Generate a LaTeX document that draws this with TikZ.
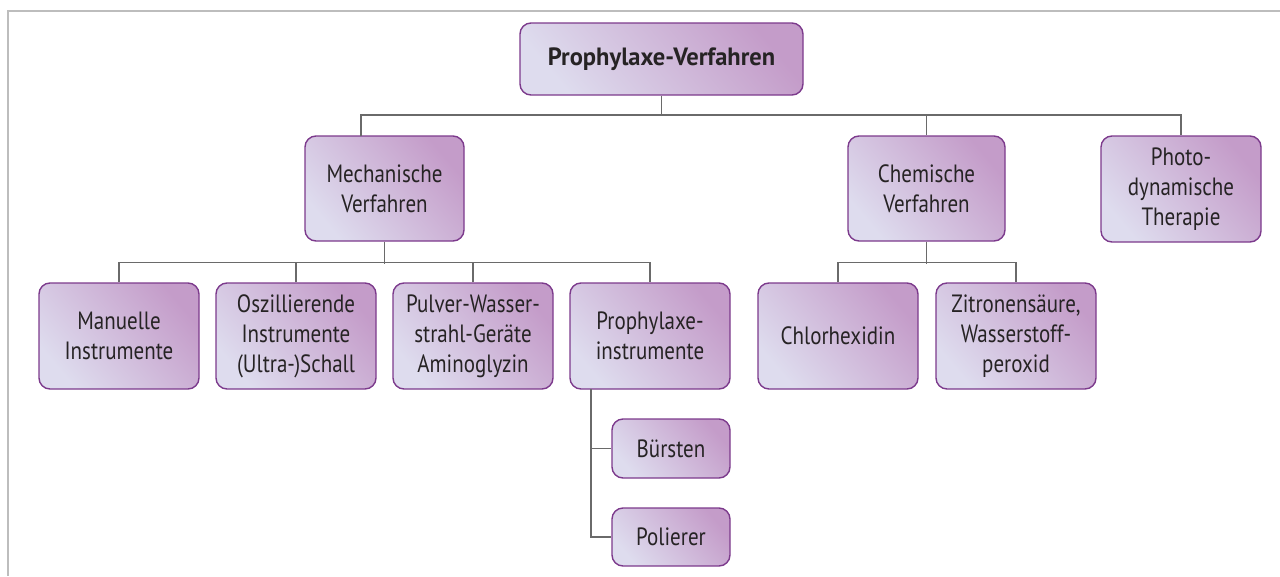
\documentclass[tikz,border=0pt]{standalone}
\usepackage{fontspec}
\setmainfont{PT Sans}[FakeStretch=0.84, BoldFeatures={FakeStretch=0.98}]
\usetikzlibrary{calc}
\definecolor{boxlight}{HTML}{DEDCEE}
\definecolor{boxdark}{HTML}{C49CC9}
\definecolor{boxedge}{HTML}{7C3A8C}
\definecolor{linegray}{HTML}{6A6A6A}
\definecolor{framegray}{HTML}{BDBDBD}
\definecolor{txt}{HTML}{262324}
\tikzset{
  box/.style={draw=boxedge, line width=1.4pt, rounded corners=11pt,
    top color=boxdark, bottom color=boxlight, shading angle=-50,
    inner sep=0pt, align=center, text=txt,
    font=\fontsize{25}{30}\selectfont},
  bigbox/.style={box, minimum width=160pt, minimum height=106pt},
  conn/.style={draw=linegray, line width=1.4pt},
}
\begin{document}
\begin{tikzpicture}[x=1pt,y=-1pt]
\useasboundingbox (0,0) rectangle (1280,576);
\draw[framegray, line width=2pt] (1280,10.5) -- (7.5,10.5) -- (7.5,576);

\node[box, minimum width=283pt, minimum height=72pt, font=\fontsize{25}{30}\selectfont\bfseries] (top) at (661.5,59) {Prophylaxe-Verfahren};

\node[box, minimum width=159pt, minimum height=105pt] (mech) at (384.5,188.5) {Mechanische\\Verfahren};
\node[box, minimum width=157pt, minimum height=105pt] (chem) at (926.5,188.5) {Chemische\\Verfahren};
\node[box, minimum width=160pt, minimum height=106pt] (photo) at (1181,189) {Photo-\\dynamische\\Therapie};

\node[bigbox] (man) at (119,336) {Manuelle\\Instrumente};
\node[bigbox] (osz) at (296,336) {Oszillierende\\Instrumente\\(Ultra-)Schall};
\node[bigbox] (pul) at (473,336) {Pulver-Wasser-\\strahl-Geräte\\Aminoglyzin};
\node[bigbox] (pro) at (650,336) {Prophylaxe-\\instrumente};
\node[bigbox] (chl) at (838,336) {Chlorhexidin};
\node[bigbox] (zit) at (1016,336) {Zitronensäure,\\Wasserstoff-\\peroxid};

\node[box, minimum width=118pt, minimum height=59pt] (bur) at (671,448.5) {Bürsten};
\node[box, minimum width=118pt, minimum height=58pt] (pol) at (671,537) {Polierer};

% level 1
\coordinate (mechin) at (361,136);
\coordinate (j0) at (661.5,115);
\draw[conn] (top.south) -- (j0);
\draw[conn] (mechin) -- ++(0,-21) -| (photo.north);
\draw[conn] (chem.north) -- ++(0,-21);

% level 2 mechanical
\draw[conn] (mech.south) -- ++(0,22.5);
\draw[conn] (man.north) -- ++(0,-20) -| (pro.north);
\draw[conn] (osz.north) -- ++(0,-20);
\draw[conn] (pul.north) -- ++(0,-20);

% level 2 chemical
\draw[conn] (chem.south) -- ++(0,22.5);
\draw[conn] (chl.north) -- ++(0,-20) -| (zit.north);

% sub
\coordinate (pj) at (591,389);
\draw[conn] (pj) |- (pol.west);
\draw[conn] (pj |- bur.west) -- (bur.west);
\end{tikzpicture}
\end{document}
